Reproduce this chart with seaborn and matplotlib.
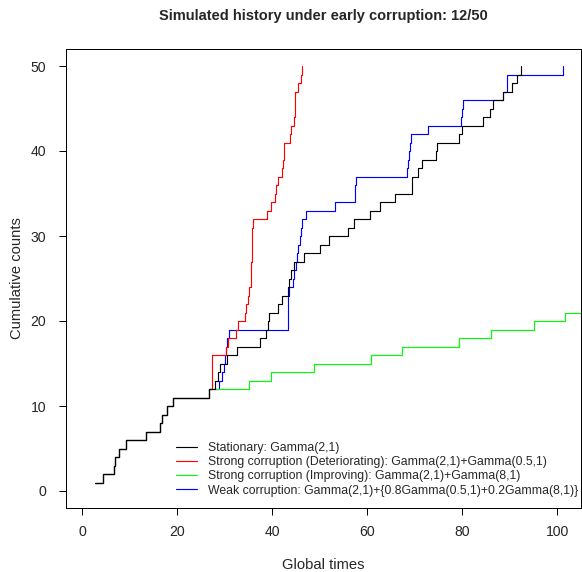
import pandas as pd
import matplotlib
matplotlib.use("Agg")
import matplotlib.pyplot as plt
from matplotlib.lines import Line2D
import seaborn as sns

# Event times common to every scenario (the first 12 events before corruption)
shared_times = [2.7, 4.5, 6.7, 7.0, 7.7, 9.3, 13.4, 16.4, 16.9, 17.8, 19.1, 26.7]

# Event times after the change point, one list per scenario
stationary_times = [28.1, 28.6, 29.1, 30.5, 32.6, 37.5, 38.7, 39.2, 39.4, 41.3,
                    42.2, 43.4, 43.6, 44.0, 44.6, 46.7, 50.0, 51.9, 56.1, 57.3,
                    60.6, 62.7, 65.9, 69.4, 69.5, 70.8, 71.5, 74.5, 74.7, 79.4,
                    79.9, 84.5, 85.9, 86.6, 88.6, 90.6, 91.5, 92.4]
deteriorating_times = [27.30, 27.35, 27.40, 27.45, 30.3, 30.8, 32.4, 32.9, 34.3, 34.5,
                       35.0, 35.2, 35.55, 35.6, 35.65, 35.7, 35.75, 35.8, 35.85, 35.9,
                       38.9, 39.7, 40.6, 40.8, 41.3, 42.0, 42.4, 42.45, 42.5, 43.8,
                       44.1, 44.7, 44.75, 44.8, 44.9, 45.5, 46.2, 46.3]
improving_times = [35.2, 39.7, 48.9, 60.8, 67.4, 79.4, 86.2, 95.2, 101.6, 110.0]
weak_times = [28.9, 29.4, 29.8, 30.0, 30.3, 30.6, 30.9, 43.35, 43.4, 43.42,
              43.45, 43.5, 44.5, 44.55, 45.1, 45.3, 45.5, 45.8, 46.0, 46.4,
              47.2, 53.3, 57.5, 57.55, 57.6, 68.5, 68.6, 68.8, 69.0, 69.3,
              72.8, 79.8, 80.0, 80.3, 88.6, 89.4, 89.5, 101.3]

labels = ["Stationary: Gamma(2,1)",
          "Strong corruption (Deteriorating): Gamma(2,1)+Gamma(0.5,1)",
          "Strong corruption (Improving): Gamma(2,1)+Gamma(8,1)",
          "Weak corruption: Gamma(2,1)+{0.8Gamma(0.5,1)+0.2Gamma(8,1)}"]
colors = ["#000000", "#FF0000", "#00FF00", "#0000FF"]
after_times = [stationary_times, deteriorating_times, improving_times, weak_times]

rows = []
for lab, tail in zip(labels, after_times):
    times = shared_times + tail
    for i, t in enumerate(times):
        rows.append({"series": lab, "time": t, "count": i + 1})
df = pd.DataFrame(rows)

sns.set_style("ticks")
plt.rcParams["font.family"] = ["Liberation Sans", "DejaVu Sans"]

fig = plt.figure(figsize=(582 / 72, 572 / 72), dpi=72)
ax = fig.add_axes([66 / 582, 64 / 572, (581 - 66) / 582, (508 - 49) / 572])

draw_order = [labels[3], labels[1], labels[2], labels[0]]
palette = dict(zip(labels, colors))
sns.lineplot(data=df, x="time", y="count", hue="series", hue_order=draw_order,
             palette=palette, estimator=None, sort=False, drawstyle="steps-post",
             linewidth=1.15, legend=False, ax=ax)

ax.set_xlim(-3.37, 105.05)
ax.set_ylim(-2, 52)
ax.set_xticks([0, 20, 40, 60, 80, 100])
ax.set_yticks([0, 10, 20, 30, 40, 50])
ax.tick_params(direction="out", length=7, width=1, labelsize=14, color="black")
ax.tick_params(axis="x", pad=10)
ax.tick_params(axis="y", pad=13)
for s in ax.spines.values():
    s.set_visible(True)
    s.set_color("black")
    s.set_linewidth(1)

ax.set_xlabel("Global times", fontsize=14.7, labelpad=19)
ax.set_ylabel("Cumulative counts", fontsize=14.7, labelpad=6)
ax.set_title("Simulated history under early corruption: 12/50",
             fontsize=14.6, fontweight="bold", pad=29)

handles = [Line2D([], [], color=c, lw=1.15) for c in colors]
ax.legend(handles, labels, loc="upper left", bbox_to_anchor=(175.5 / 582, 1 - 442 / 572),
          bbox_transform=fig.transFigure, frameon=False, fontsize=12.3,
          handlelength=1.76, handletextpad=0.89, labelspacing=0.18, borderpad=0,
          borderaxespad=0)

fig.savefig("out.png", dpi=72)
